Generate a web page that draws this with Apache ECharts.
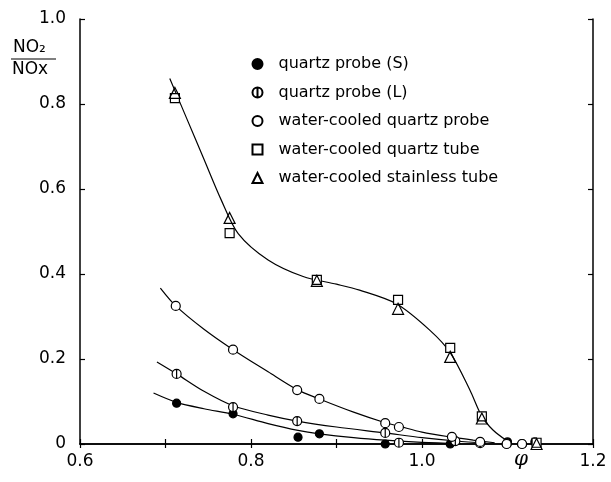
<!DOCTYPE html>
<html>
<head>
<meta charset="utf-8">
<script src="https://cdn.jsdelivr.net/npm/echarts@6/dist/echarts.min.js"></script>
<style>
  html, body { margin: 0; padding: 0; background: #fff; }
  #chart { width: 611px; height: 482px; }
</style>
</head>
<body>
<div id="chart"></div>
<script>
// legend names
var seriesNames = [
  'quartz probe (S)',
  'quartz probe (L)',
  'water-cooled quartz probe',
  'water-cooled quartz tube',
  'water-cooled stainless tube'
];

// measured points (phi, NO2/NOx)
var quartzSX = [0.713, 0.779, 0.855, 0.880, 0.957, 1.033, 1.100, 1.132];
var quartzSY = [0.096, 0.071, 0.016, 0.024, 0.000, 0.000, 0.005, 0.005];
var quartzLX = [0.713, 0.779, 0.854, 0.957, 0.973, 1.039, 1.068, 1.099, 1.117];
var quartzLY = [0.165, 0.087, 0.054, 0.026, 0.003, 0.007, 0.002, 0.000, 0.000];
var wcProbeX = [0.712, 0.779, 0.854, 0.880, 0.957, 0.973, 1.035, 1.068, 1.099, 1.117];
var wcProbeY = [0.325, 0.222, 0.127, 0.106, 0.049, 0.040, 0.017, 0.005, 0.000, 0.000];
var wcTubeX = [0.711, 0.775, 0.877, 0.972, 1.033, 1.070, 1.134];
var wcTubeY = [0.814, 0.496, 0.386, 0.339, 0.226, 0.065, 0.003];
var wcStainX = [0.711, 0.775, 0.877, 0.972, 1.033, 1.070, 1.134];
var wcStainY = [0.826, 0.532, 0.384, 0.318, 0.205, 0.060, 0.000];

// hand-drawn fit curves
var fitTubeX = [0.705, 0.725, 0.745, 0.765, 0.785, 0.820, 0.861, 0.900, 0.927, 0.970, 1.009, 1.033, 1.056, 1.070, 1.083, 1.099];
var fitTubeY = [0.860, 0.765, 0.670, 0.575, 0.495, 0.433, 0.394, 0.376, 0.362, 0.330, 0.268, 0.215, 0.127, 0.065, 0.033, 0.008];
var fitProbeX = [0.694, 0.712, 0.745, 0.779, 0.820, 0.854, 0.880, 0.920, 0.957, 0.973, 1.000, 1.035, 1.060, 1.085];
var fitProbeY = [0.367, 0.325, 0.270, 0.222, 0.170, 0.128, 0.106, 0.075, 0.050, 0.042, 0.028, 0.016, 0.009, 0.003];
var fitLX = [0.690, 0.713, 0.745, 0.779, 0.820, 0.854, 0.900, 0.957, 1.000, 1.040, 1.075];
var fitLY = [0.193, 0.165, 0.124, 0.090, 0.068, 0.054, 0.040, 0.026, 0.015, 0.007, 0.002];
var fitSX = [0.686, 0.713, 0.745, 0.779, 0.820, 0.855, 0.880, 0.920, 0.957, 1.000, 1.045];
var fitSY = [0.120, 0.098, 0.083, 0.070, 0.048, 0.032, 0.024, 0.015, 0.009, 0.004, 0.001];

// tick labels
var xLabelValues = [0.6, 0.8, 1.0, 1.2];
var xLabelTexts = ['0.6', '0.8', '1.0', '1.2'];
var yLabelValues = [0, 0.2, 0.4, 0.6, 0.8, 1.0];
var yLabelTexts = ['0', '0.2', '0.4', '0.6', '0.8', '1.0'];

function pairs(xs, ys) {
  return xs.map(function (x, i) { return [x, ys[i]]; });
}
function lookupLabel(values, texts, v) {
  for (var i = 0; i < values.length; i++) {
    if (Math.abs(values[i] - v) < 1e-6) return texts[i];
  }
  return '';
}

var font = 'DejaVu Sans';
var black = '#000';
var halfCircle = 'path://M5,0A5,5,0,1,1,5,10A5,5,0,1,1,5,0ZM5,0L5,10';

function fitLine(xs, ys) {
  return {
    type: 'line',
    data: pairs(xs, ys),
    smooth: 0.3,
    symbol: 'none',
    silent: true,
    z: 1,
    lineStyle: { color: black, width: 1.2 }
  };
}
function points(name, xs, ys, symbol, fill, size) {
  return {
    name: name,
    type: 'scatter',
    data: pairs(xs, ys),
    symbol: symbol,
    symbolSize: size,
    clip: false,
    z: 3,
    itemStyle: { color: fill, borderColor: black, borderWidth: 1.2, opacity: 1 }
  };
}

var axisLine = { show: true, lineStyle: { color: black, width: 1.5 } };
var tick = function (len) {
  return { show: true, inside: true, length: len, lineStyle: { color: black, width: 1.2 } };
};

var option = {
  animation: false,
  backgroundColor: '#fff',
  grid: { left: 80, right: 18, top: 19, bottom: 38, containLabel: false },
  legend: {
    data: seriesNames,
    orient: 'vertical',
    left: 245,
    top: 50,
    itemWidth: 10,
    itemHeight: 10,
    itemGap: 10.5,
    selectedMode: false,
    textStyle: { fontFamily: font, fontSize: 16, color: black, lineHeight: 18, padding: [0, 0, 0, 11] }
  },
  xAxis: [
    {
      type: 'value', position: 'bottom', min: 0.6, max: 1.2, interval: 0.1,
      axisLine: axisLine, axisTick: tick(5), splitLine: { show: false },
      axisLabel: {
        margin: 9, fontFamily: font, fontSize: 17, color: black,
        formatter: function (v) { return lookupLabel(xLabelValues, xLabelTexts, v); }
      }
    },
    {
      type: 'value', position: 'top', min: 0.6, max: 1.2, interval: 0.1,
      axisLine: axisLine, axisTick: tick(4), axisLabel: { show: false }, splitLine: { show: false }
    }
  ],
  yAxis: [
    {
      type: 'value', position: 'left', min: 0, max: 1, interval: 0.2,
      axisLine: axisLine, axisTick: tick(5), splitLine: { show: false },
      axisLabel: {
        margin: 14, fontFamily: font, fontSize: 17, color: black,
        formatter: function (v) { return lookupLabel(yLabelValues, yLabelTexts, v); }
      }
    },
    {
      type: 'value', position: 'right', min: 0, max: 1, interval: 0.2,
      axisLine: axisLine, axisTick: tick(5), axisLabel: { show: false }, splitLine: { show: false }
    }
  ],
  graphic: [
    // y axis name as a fraction NO2 / NOx
    { type: 'text', left: 13, top: 39, style: { text: 'NO₂', font: '17px "DejaVu Sans"', fill: black } },
    { type: 'line', shape: { x1: 11, y1: 59, x2: 56, y2: 59 }, style: { stroke: black, lineWidth: 1.2 } },
    { type: 'text', left: 12, top: 61, style: { text: 'NOx', font: '17px "DejaVu Sans"', fill: black } },
    // x axis name
    { type: 'text', left: 514, top: 450, style: { text: 'φ', font: 'italic 20px "DejaVu Serif"', fill: black } }
  ],
  series: [
    fitLine(fitTubeX, fitTubeY),
    fitLine(fitProbeX, fitProbeY),
    fitLine(fitLX, fitLY),
    fitLine(fitSX, fitSY),
    points(seriesNames[0], quartzSX, quartzSY, 'circle', black, 8),
    points(seriesNames[1], quartzLX, quartzLY, halfCircle, '#fff', 9),
    points(seriesNames[2], wcProbeX, wcProbeY, 'circle', '#fff', 9),
    points(seriesNames[3], wcTubeX, wcTubeY, 'rect', '#fff', 9),
    points(seriesNames[4], wcStainX, wcStainY, 'triangle', 'none', 11)
  ]
};

var myChart = echarts.init(document.getElementById('chart'));
myChart.setOption(option);
</script>
</body>
</html>
